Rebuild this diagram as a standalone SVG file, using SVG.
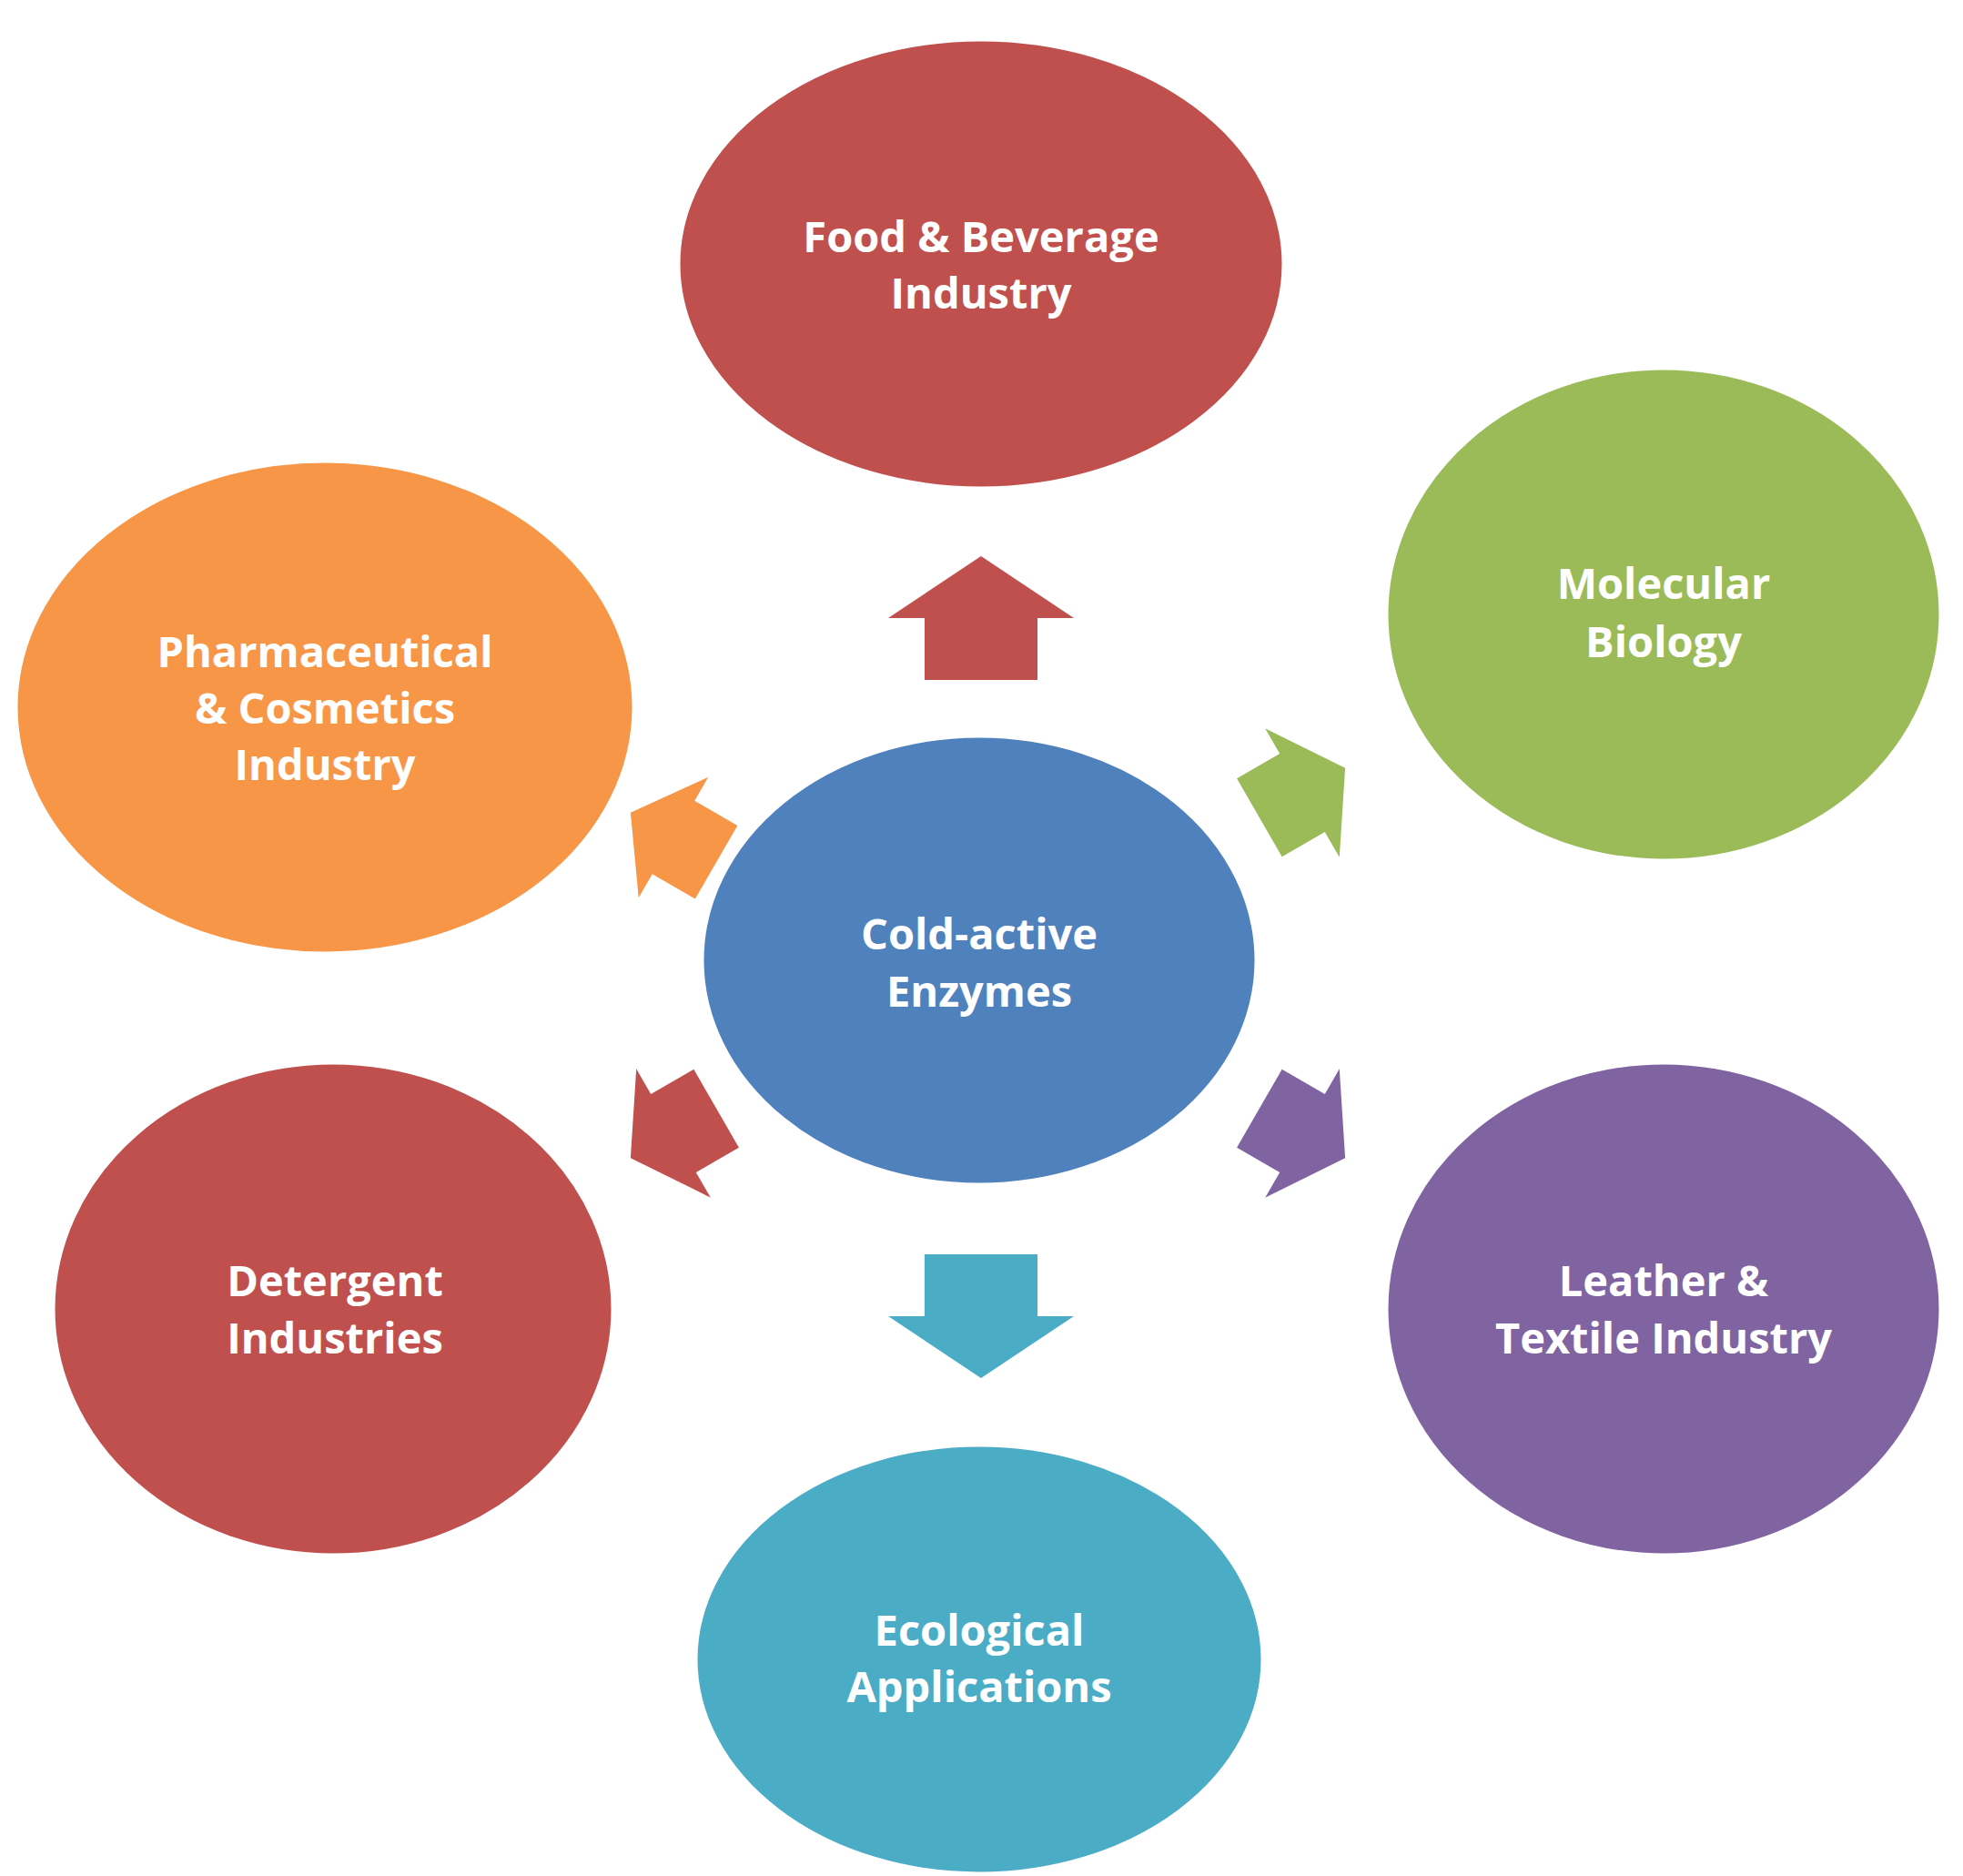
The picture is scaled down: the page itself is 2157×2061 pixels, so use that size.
<svg xmlns="http://www.w3.org/2000/svg" width="2157" height="2061" viewBox="0 0 2157 2061">
<style>
text{font-family:"Open Sans","Liberation Sans",sans-serif;font-weight:bold;font-size:47px;fill:#fff;text-anchor:middle;dominant-baseline:central}
.e{stroke:#fff;stroke-width:3}
</style>
<defs>
<path id="arr" d="M0,-68 L102,0 L62,0 L62,68 L-62,68 L-62,0 L-102,0 Z"/>
</defs>
<rect width="2157" height="2061" fill="#fff"/>
<g id="connectors">
<use href="#arr" fill="#C0504D" transform="translate(1078,679)"/>
<use href="#arr" fill="#4BACC6" transform="translate(1078,1446) rotate(180)"/>
<use href="#arr" fill="#9BBB59" transform="translate(1431,871) rotate(60) scale(0.8)"/>
<use href="#arr" fill="#8064A2" transform="translate(1431,1245) rotate(120) scale(0.8)"/>
<use href="#arr" fill="#C0504D" transform="translate(740,1245) rotate(-120) scale(0.8)"/>
<use href="#arr" fill="#F79646" transform="translate(740,920) rotate(-60) scale(0.75,0.8)"/>
</g>
<g id="food"><ellipse class="e" cx="1078" cy="290" rx="332" ry="246" fill="#C0504D"/><text x="1078" y="259">Food &amp; Beverage</text><text x="1078" y="321">Industry</text></g>
<g id="molecular"><ellipse class="e" cx="1828" cy="675" rx="304" ry="270" fill="#9BBB59"/><text x="1828" y="640">Molecular</text><text x="1828" y="704">Biology</text></g>
<g id="pharma"><ellipse class="e" cx="357" cy="777" rx="339" ry="270" fill="#F79646"/><text x="357" y="715">Pharmaceutical</text><text x="357" y="777">&amp; Cosmetics</text><text x="357" y="839">Industry</text></g>
<g id="center"><ellipse class="e" cx="1076" cy="1055" rx="304" ry="246" fill="#4F81BD"/><text x="1076" y="1025">Cold-active</text><text x="1076" y="1088">Enzymes</text></g>
<g id="detergent"><ellipse class="e" cx="366" cy="1438" rx="307" ry="270" fill="#C0504D"/><text x="368" y="1406">Detergent</text><text x="368" y="1469">Industries</text></g>
<g id="leather"><ellipse class="e" cx="1828" cy="1438" rx="304" ry="270" fill="#8064A2"/><text x="1828" y="1406">Leather &amp;</text><text x="1828" y="1469">Textile Industry</text></g>
<g id="ecological"><ellipse class="e" cx="1076" cy="1823" rx="311" ry="235" fill="#4BACC6"/><text x="1076" y="1790">Ecological</text><text x="1076" y="1852">Applications</text></g>
</svg>
